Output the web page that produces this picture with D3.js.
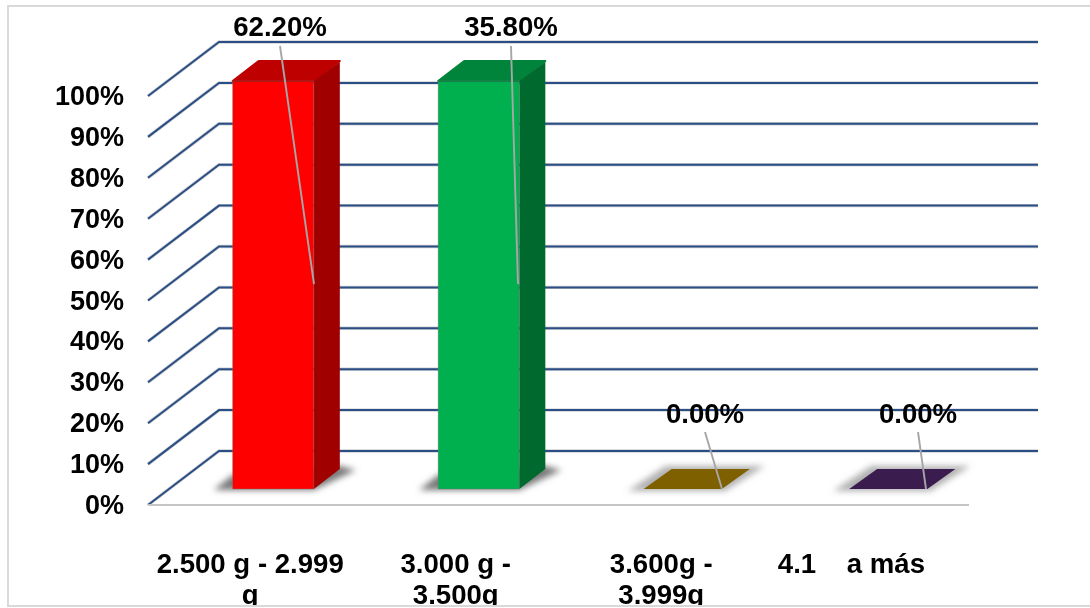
<!DOCTYPE html>
<html><head><meta charset="utf-8">
<script src="https://cdn.jsdelivr.net/npm/d3@7"></script>
<style>html,body{margin:0;padding:0;background:#fff}svg{display:block}text{font-family:"Liberation Sans",Arial,sans-serif;font-weight:bold;fill:#000;white-space:pre}</style>
</head><body><svg id="c" width="1090" height="608"></svg>
<script>
const categories = ["2.500 g - 2.999 g", "3.000 g - 3.500g", "3.600g - 3.999g", "4.1    a más    "];
const categoryLines = [["2.500 g - 2.999","g"],["3.000 g -","3.500g"],["3.600g -","3.999g"],["4.1    a más    "]];
const barHeights = [100, 100, 0, 0];
const valueLabels = ["62.20%", "35.80%", "0.00%", "0.00%"];
const labelPos = [[280, 36, 46, 284, 314], [511, 36, 46, 284, 518], [705, 423, 432, 489, 722], [918, 423, 432, 489, 926]];
const frontColors = ["#ff0000", "#00b050", "#7f6000", "#3a1a4f"];
const topColors = ["#bf0000", "#00843b", "#7f6000", "#3a1a4f"];
const sideColors = ["#a00000", "#006b2f", "#7f6000", "#3a1a4f"];
const ticks = [0,10,20,30,40,50,60,70,80,90,100];

const svg = d3.select("#c");
const W = 1090, H = 608;
const x = d3.scaleBand().domain(categories).range([148, 969]).paddingInner(0.605).paddingOuter(0.3);
const y = d3.scaleLinear().domain([0,100]).range([505, 96]);
const wall = {dx: 71, dy: -54};
const barNear = {dx: 23, dy: -16};
const barFar = {dx: 26, dy: -20};

const defs = svg.append("defs");
defs.append("filter").attr("id","blur").attr("x","-20%").attr("y","-50%").attr("width","140%").attr("height","200%")
  .append("feGaussianBlur").attr("stdDeviation",3);
defs.append("filter").attr("id","soft").attr("filterUnits","userSpaceOnUse").attr("x",0).attr("y",0).attr("width",W).attr("height",H)
  .append("feGaussianBlur").attr("stdDeviation",0.45);

// frame: top, left and bottom edges only, the right side runs off the picture
svg.append("path").attr("d",`M${W},6H8V606H${W}`).attr("fill","none").attr("stroke","#d9d9d9").attr("stroke-width",2);

const plot = svg.append("g").attr("filter","url(#soft)");
// gridlines
const grid = plot.append("g");
const gp = t => `M${148},${y(t)}L${148+wall.dx},${y(t)+wall.dy}L1038,${y(t)+wall.dy}`;
grid.selectAll(".s").data(ticks).join("path").attr("d",d=>gp(d))
  .attr("fill","none").attr("stroke","#a9a9a9").attr("stroke-width",3.4).attr("opacity",0.55);
grid.selectAll(".g").data(ticks).join("path").attr("d",d=>gp(d))
  .attr("fill","none").attr("stroke","#2a4f86").attr("stroke-width",2);
// floor front edge
plot.append("path").attr("d",`M${148},${y(0)}H969`).attr("stroke","#c4c4c4").attr("stroke-width",2).attr("fill","none");

// bars
const bars = plot.selectAll(".bar").data(categories).join("g");
bars.each(function(c,i){
  const g = d3.select(this);
  const h = barHeights[i];
  const w = h>0 ? x.bandwidth() : x.bandwidth()-3;
  const xl = x(c)+barNear.dx, xr = xl + w;
  const yb = y(0)+barNear.dy, yt = y(h)+barNear.dy+(h>0?1:0);
  const dx = barFar.dx, dy = barFar.dy;
  const shadow = h>0
    ? `M${xl-19},${yb+1}L${xr},${yb+1}L${xr+dx+16},${yb+dy+1}L${xr+dx},${yb+dy-3}L${xl},${yb-14}Z`
    : `M${xl-16},${yb+2}L${xr+3},${yb+2}L${xr+dx+17},${yb+dy-3}L${xl+dx-4},${yb+dy-3}Z`;
  g.append("path").attr("d",shadow).attr("fill",h>0?"#777":"#b0b0b0").attr("filter","url(#blur)");
  if(h>0){
    g.append("rect").attr("x",xl).attr("y",yt).attr("width",w).attr("height",yb-yt).attr("fill",frontColors[i]);
    g.append("path").attr("d",`M${xl},${yt}L${xl+dx},${yt+dy}H${xr+dx}L${xr},${yt}Z`).attr("fill",topColors[i])
      .attr("stroke",topColors[i]).attr("stroke-width",2).attr("stroke-linejoin","round");
    g.append("path").attr("d",`M${xr},${yt}L${xr+dx},${yt+dy+1}V${yb+dy}L${xr},${yb}Z`).attr("fill",sideColors[i]);
    g.append("rect").attr("x",xl).attr("y",yt).attr("width",w).attr("height",yb-yt).attr("fill","none").attr("stroke","#777").attr("stroke-width",0.8).attr("opacity",0.5);
  } else {
    g.append("path").attr("d",`M${xl},${yb}H${xr}L${xr+dx+2},${yb+dy}H${xl+dx+2}Z`).attr("fill",frontColors[i]);
  }
});

// leader lines
plot.selectAll(".lead").data(labelPos).join("line")
  .attr("x1",d=>d[0]).attr("y1",d=>d[2]).attr("x2",d=>d[4]).attr("y2",d=>d[3])
  .attr("stroke","#a6a6a6").attr("stroke-width",1.9);

const txt = svg.append("g").attr("filter","url(#soft)");
// value labels
txt.selectAll(".vl").data(valueLabels).join("text").attr("text-anchor","middle")
  .attr("x",(d,i)=>labelPos[i][0]).attr("y",(d,i)=>labelPos[i][1]).attr("font-size",27.6).text(d=>d);
// y axis tick labels
txt.selectAll(".yt").data(ticks).join("text").attr("text-anchor","end")
  .attr("x",124).attr("y",d=>y(d)+9).attr("font-size",27).text(d=>d+"%");
// category labels
categories.forEach((c,i)=>{
  const cx = x(c)+x.bandwidth()/2;
  categoryLines[i].forEach((l,k)=>{
    txt.append("text").attr("text-anchor","middle").attr("x",cx).attr("y",573+k*31).attr("font-size",27.6).text(l);
  });
});
// the bottom frame edge cuts the second label line, as in the picture
svg.append("rect").attr("x",0).attr("y",605).attr("width",W).attr("height",3).attr("fill","#fff");
svg.append("line").attr("x1",7).attr("x2",W).attr("y1",606).attr("y2",606).attr("stroke","#d9d9d9").attr("stroke-width",2);
</script></body></html>
